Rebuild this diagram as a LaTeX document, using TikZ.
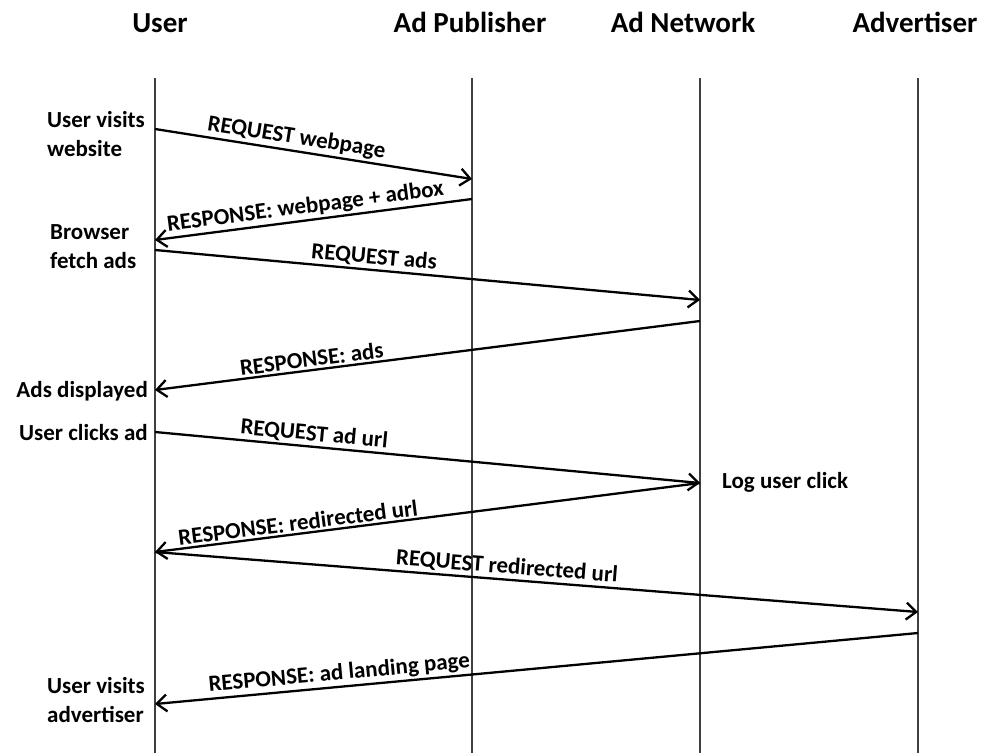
\documentclass[tikz,border=0pt]{standalone}
\usepackage{fontspec}
\setmainfont{Carlito}
\usetikzlibrary{arrows.meta}
\begin{document}
\begin{tikzpicture}[x=1pt,y=-1pt,
  lifeline/.style={draw=black!75, line width=1.1pt},
  msg/.style={draw=black, line width=2.3pt, -{Straight Barb[length=10pt,width=17pt,line width=2.3pt]}},
  title/.style={font=\fontsize{29}{34}\selectfont\bfseries, inner sep=0pt, anchor=base},
  side/.style={font=\fontsize{23}{29}\selectfont\bfseries, inner sep=0pt, align=left},
  msglbl/.style={font=\fontsize{23}{28}\selectfont\bfseries, sloped, above, inner sep=2pt}]
\useasboundingbox (0,0) rectangle (982,753);

% column heads
\node[title] (hUser) at (160,32) {User};
\node[title] (hPub)  at (470,32) {Ad Publisher};
\node[title] (hNet)  at (683,32) {Ad Network};
\node[title] (hAdv)  at (915,32) {Advertiser};

% lifelines
\coordinate (uTop) at (155,78);  \coordinate (uBot) at (155,753);
\coordinate (pTop) at (472,78);  \coordinate (pBot) at (472,753);
\coordinate (nTop) at (700,78);  \coordinate (nBot) at (700,753);
\coordinate (aTop) at (918,78);  \coordinate (aBot) at (918,753);
\draw[lifeline] (uTop) -- (uBot);
\draw[lifeline] (pTop) -- (pBot);
\draw[lifeline] (nTop) -- (nBot);
\draw[lifeline] (aTop) -- (aBot);

% message end points
\coordinate (u1) at (155,129);  \coordinate (p1) at (472,179);
\coordinate (p2) at (472,199);  \coordinate (u2) at (155,240);
\coordinate (u3) at (155,250);  \coordinate (n3) at (700,300);
\coordinate (n4) at (700,321);  \coordinate (u4) at (155,390);
\coordinate (u5) at (155,432);  \coordinate (n5) at (700,483);
\coordinate (u6) at (155,552);
\coordinate (a7) at (918,612);
\coordinate (a8) at (918,633);  \coordinate (u8) at (155,704);

% messages
\draw[msg] (u1) -- node[msglbl, pos=0.44] {REQUEST webpage} (p1);
\draw[msg] (p2) -- node[msglbl, pos=0.52] {RESPONSE: webpage + adbox} (u2);
\draw[msg] (u3) -- node[msglbl, pos=0.40] {REQUEST ads} (n3);
\draw[msg] (n4) -- node[msglbl, pos=0.71] {RESPONSE: ads} (u4);
\draw[msg] (u5) -- node[msglbl, pos=0.29] {REQUEST ad url} (n5);
\draw[msg] (n5) -- node[msglbl, pos=0.735] {RESPONSE: redirected url} (u6);
\draw[msg] (u6) -- node[msglbl, pos=0.46] {REQUEST redirected url} (a7);
\draw[msg] (a8) -- node[msglbl, pos=0.757] {RESPONSE: ad landing page} (u8);

% annotations
\node[side, anchor=west] (sVisit) at (47,134) {User visits\\website};
\node[side, anchor=west] (sFetch) at (50,247) {Browser\\fetch ads};
\node[side, anchor=east] (sDisp)  at (148,391) {Ads displayed};
\node[side, anchor=east] (sClick) at (148,433) {User clicks ad};
\node[side, anchor=west] (sLog)   at (722,482) {Log user click};
\node[side, anchor=west] (sAdv)   at (47,700) {User visits\\advertiser};
\end{tikzpicture}
\end{document}
